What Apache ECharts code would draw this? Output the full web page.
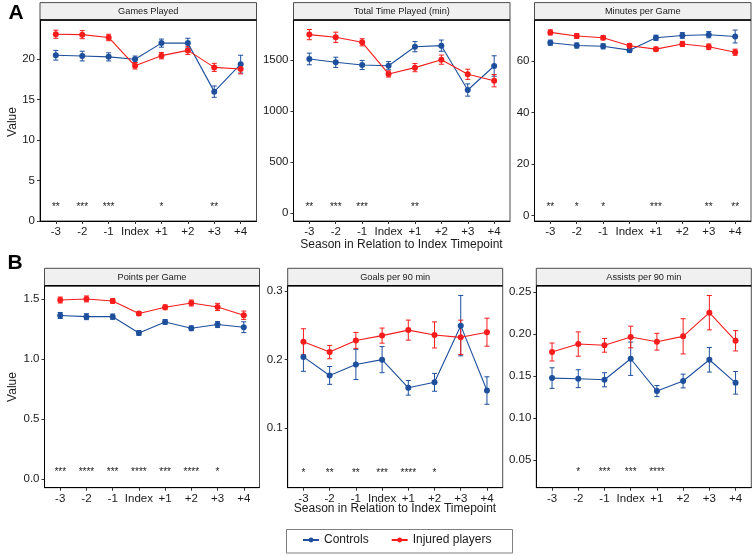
<!DOCTYPE html>
<html><head><meta charset="utf-8">
<script src="https://cdn.jsdelivr.net/npm/echarts@6/dist/echarts.min.js"></script>
<style>html,body{margin:0;padding:0;background:#fff}#c{width:756px;height:556px}</style>
</head><body><div id="c"></div><script>
// ---------------- data ----------------
const categories = ['-3','-2','-1','Index','+1','+2','+3','+4'];
const seriesNames = ['Controls','Injured players'];
const panelTitles = ['Games Played','Total Time Played (min)','Minutes per Game','Points per Game','Goals per 90 min','Assists per 90 min'];
const xTitle = 'Season in Relation to Index Timepoint';
const yTitle = 'Value';

const gamesCtrl    = [20.5, 20.4, 20.3, 20.0, 22.0, 22.0, 16.0, 19.4];
const gamesCtrlErr = [0.6, 0.6, 0.5, 0.4, 0.5, 0.6, 0.7, 1.1];
const gamesInj     = [23.1, 23.05, 22.7, 19.2, 20.45, 21.1, 19.0, 18.8];
const gamesInjErr  = [0.5, 0.5, 0.4, 0.4, 0.4, 0.5, 0.5, 0.6];
const gamesStars   = ['**','***','***','','*','','**',''];
const gamesTicks   = [0, 5, 10, 15, 20];

const timeCtrl     = [1510, 1477, 1451, 1444, 1630, 1640, 1206, 1441];
const timeCtrlErr  = [57, 50, 45, 40, 50, 55, 60, 100];
const timeInj      = [1748, 1722, 1673, 1363, 1425, 1503, 1360, 1297];
const timeInjErr   = [50, 50, 35, 30, 40, 45, 50, 60];
const timeStars    = ['**','***','***','','**','','',''];
const timeTicks    = [0, 500, 1000, 1500];

const mpgCtrl      = [67.1, 66.0, 65.7, 64.2, 69.0, 69.9, 70.2, 69.5];
const mpgCtrlErr   = [1.0, 1.0, 1.0, 0.8, 1.0, 1.1, 1.2, 2.5];
const mpgInj       = [71.1, 69.7, 69.0, 65.9, 64.6, 66.6, 65.5, 63.4];
const mpgInjErr    = [1.0, 0.9, 0.8, 0.9, 0.8, 1.0, 1.1, 1.2];
const mpgStars     = ['**','*','*','','***','','**','**'];
const mpgTicks     = [0, 20, 40, 60];

const ppgCtrl      = [1.365, 1.355, 1.355, 1.219, 1.311, 1.258, 1.289, 1.267];
const ppgCtrlErr   = [0.025, 0.025, 0.022, 0.02, 0.02, 0.02, 0.025, 0.045];
const ppgInj       = [1.494, 1.503, 1.486, 1.381, 1.433, 1.469, 1.436, 1.367];
const ppgInjErr    = [0.025, 0.025, 0.02, 0.015, 0.02, 0.025, 0.03, 0.035];
const ppgStars     = ['***','****','***','****','***','****','*',''];
const ppgTicks     = [0.0, 0.5, 1.0, 1.5];

const goalsCtrl    = [0.204, 0.177, 0.193, 0.2, 0.159, 0.167, 0.2495, 0.155];
const goalsCtrlErr = [0.021, 0.013, 0.022, 0.019, 0.0107, 0.013, 0.044, 0.02];
const goalsInj     = [0.226, 0.211, 0.228, 0.235, 0.243, 0.236, 0.2325, 0.24];
const goalsInjErr  = [0.019, 0.0097, 0.0116, 0.011, 0.0146, 0.019, 0.025, 0.0204];
const goalsStars   = ['*','**','**','***','****','*','',''];
const goalsTicks   = [0.1, 0.2, 0.3];

const astCtrl      = [0.1477, 0.147, 0.1457, 0.1708, 0.1322, 0.1442, 0.1696, 0.1421];
const astCtrlErr   = [0.0123, 0.0107, 0.0084, 0.0199, 0.0066, 0.0082, 0.0147, 0.0135];
const astInj       = [0.1788, 0.1883, 0.1868, 0.1967, 0.1911, 0.1975, 0.2257, 0.1922];
const astInjErr    = [0.0107, 0.0145, 0.0082, 0.0129, 0.01, 0.021, 0.0205, 0.0121];
const astStars     = ['','*','***','***','****','','',''];
const astTicks     = [0.05, 0.10, 0.15, 0.20, 0.25];

// ---------------- layout ----------------
const FONT = 'Liberation Sans, Arial, sans-serif';
const BLUE = '#1D4F9C';
const RED = '#F71C1C';
const STRIP_H = 17.4;
const panels = [
  {title: panelTitles[0], ctrl: gamesCtrl, ctrlErr: gamesCtrlErr, inj: gamesInj, injErr: gamesInjErr, stars: gamesStars, ticks: gamesTicks,
   left: 40, top: 20, width: 216.5, height: 201, min: 0, max: 24.86, starY: 1.7, fmt: v => String(v)},
  {title: panelTitles[1], ctrl: timeCtrl, ctrlErr: timeCtrlErr, inj: timeInj, injErr: timeInjErr, stars: timeStars, ticks: timeTicks,
   left: 293.5, top: 20, width: 216.5, height: 201, min: -75.3, max: 1891, starY: 60, fmt: v => String(v)},
  {title: panelTitles[2], ctrl: mpgCtrl, ctrlErr: mpgCtrlErr, inj: mpgInj, injErr: mpgInjErr, stars: mpgStars, ticks: mpgTicks,
   left: 534.5, top: 20, width: 216.5, height: 201, min: -2.06, max: 75.9, starY: 3.3, fmt: v => String(v)},
  {title: panelTitles[3], ctrl: ppgCtrl, ctrlErr: ppgCtrlErr, inj: ppgInj, injErr: ppgInjErr, stars: ppgStars, ticks: ppgTicks,
   left: 44.5, top: 285.7, width: 215, height: 202, min: -0.0726, max: 1.6135, starY: 0.053, fmt: v => v.toFixed(1)},
  {title: panelTitles[4], ctrl: goalsCtrl, ctrlErr: goalsCtrlErr, inj: goalsInj, injErr: goalsInjErr, stars: goalsStars, ticks: goalsTicks,
   left: 287.7, top: 285.7, width: 215, height: 202, min: 0.01347, max: 0.3077, starY: 0.035, fmt: v => v.toFixed(1)},
  {title: panelTitles[5], ctrl: astCtrl, ctrlErr: astCtrlErr, inj: astInj, injErr: astInjErr, stars: astStars, ticks: astTicks,
   left: 536.3, top: 285.7, width: 215, height: 202, min: 0.01697, max: 0.2579, starY: 0.035, fmt: v => v.toFixed(2)}
];

const grid = [], xAxis = [], yAxis = [], series = [], graphic = [];
const xIdx = categories.map((c, i) => i);

function errSeries(k, means, errs, color) {
  return {
    type: 'custom', name: 'err' + k + color, xAxisIndex: k, yAxisIndex: k, z: 3,
    data: means.map((m, i) => [i, m - errs[i], m + errs[i]]),
    encode: {x: 0, y: [1, 2]},
    renderItem(params, api) {
      const x = api.value(0);
      const lo = api.coord([x, api.value(1)]);
      const hi = api.coord([x, api.value(2)]);
      const w = 2.5;
      const st = {stroke: color, lineWidth: 1};
      return {type: 'group', children: [
        {type: 'line', shape: {x1: lo[0], y1: lo[1], x2: hi[0], y2: hi[1]}, style: st},
        {type: 'line', shape: {x1: lo[0] - w, y1: lo[1], x2: lo[0] + w, y2: lo[1]}, style: st},
        {type: 'line', shape: {x1: hi[0] - w, y1: hi[1], x2: hi[0] + w, y2: hi[1]}, style: st}
      ]};
    }
  };
}

panels.forEach((p, k) => {
  grid.push({left: p.left, top: p.top, width: p.width, height: p.height, show: true,
    borderColor: '#4d4d4d', borderWidth: 1, backgroundColor: 'transparent'});
  xAxis.push({type: 'value', gridIndex: k, min: -0.6, max: 7.6,
    splitLine: {show: false},
    axisLine: {show: true, onZero: false, lineStyle: {color: '#000', width: 1}},
    axisTick: {show: true, length: 3, lineStyle: {color: '#333'}, customValues: xIdx},
    axisLabel: {show: true, customValues: xIdx, formatter: v => categories[Math.round(v)],
      fontFamily: FONT, fontSize: 11.5, color: '#1a1a1a', margin: 5}
  });
  yAxis.push({type: 'value', gridIndex: k, min: p.min, max: p.max,
    splitLine: {show: false},
    axisLine: {show: true, onZero: false, lineStyle: {color: '#000', width: 1}},
    axisTick: {show: true, length: 3, lineStyle: {color: '#333'}, customValues: p.ticks},
    axisLabel: {show: true, customValues: p.ticks, formatter: v => p.fmt(v),
      fontFamily: FONT, fontSize: 11.5, color: '#1a1a1a', margin: 5}
  });
  series.push(errSeries(k, p.ctrl, p.ctrlErr, BLUE));
  series.push({type: 'line', name: seriesNames[0], xAxisIndex: k, yAxisIndex: k, z: 4,
    data: p.ctrl.map((v, i) => [i, v]), symbol: 'circle', symbolSize: 6,
    itemStyle: {color: BLUE}, lineStyle: {color: BLUE, width: 1.1}, animation: false});
  series.push(errSeries(k, p.inj, p.injErr, RED));
  series.push({type: 'line', name: seriesNames[1], xAxisIndex: k, yAxisIndex: k, z: 5,
    data: p.inj.map((v, i) => [i, v]), symbol: 'circle', symbolSize: 6,
    itemStyle: {color: RED}, lineStyle: {color: RED, width: 1.1}, animation: false});
  const stars = p.stars;
  series.push({type: 'custom', name: 'stars' + k, xAxisIndex: k, yAxisIndex: k, z: 6,
    data: stars.map((s, i) => [i, p.starY]),
    renderItem(params, api) {
      const pt = api.coord([api.value(0), api.value(1)]);
      return {type: 'text', x: pt[0], y: pt[1], style: {text: stars[params.dataIndex],
        fill: '#222', font: '10px ' + FONT, align: 'center', verticalAlign: 'middle'}};
    }
  });
  // strip
  graphic.push({type: 'rect', shape: {x: p.left, y: p.top - STRIP_H, width: p.width, height: STRIP_H},
    style: {fill: '#F0F0F0', stroke: '#4d4d4d', lineWidth: 1}, z: 10});
  graphic.push({type: 'line', shape: {x1: p.left, y1: p.top, x2: p.left + p.width, y2: p.top},
    style: {stroke: '#000', lineWidth: 1.6}, z: 11});
  graphic.push({type: 'text', x: p.left + p.width / 2, y: p.top - STRIP_H / 2 + 0.5,
    style: {text: p.title, font: '9.2px ' + FONT, fill: '#1a1a1a', align: 'center', verticalAlign: 'middle'}, z: 12});
});

// titles & labels
graphic.push({type: 'text', x: 401.5, y: 245, style: {text: xTitle, font: '12px ' + FONT, fill: '#1a1a1a', align: 'center', verticalAlign: 'middle'}});
graphic.push({type: 'text', x: 395, y: 509, style: {text: xTitle, font: '12px ' + FONT, fill: '#1a1a1a', align: 'center', verticalAlign: 'middle'}});
graphic.push({type: 'text', x: 13, y: 122, rotation: Math.PI / 2, style: {text: yTitle, font: '12px ' + FONT, fill: '#1a1a1a', align: 'center', verticalAlign: 'middle'}});
graphic.push({type: 'text', x: 13, y: 387, rotation: Math.PI / 2, style: {text: yTitle, font: '12px ' + FONT, fill: '#1a1a1a', align: 'center', verticalAlign: 'middle'}});
graphic.push({type: 'text', x: 16, y: 13, style: {text: 'A', font: 'bold 21px ' + FONT, fill: '#000', align: 'center', verticalAlign: 'middle'}});
graphic.push({type: 'text', x: 15, y: 263, style: {text: 'B', font: 'bold 21px ' + FONT, fill: '#000', align: 'center', verticalAlign: 'middle'}});
// legend box
graphic.push({type: 'rect', shape: {x: 286.5, y: 529.5, width: 226, height: 23.5}, style: {fill: 'none', stroke: '#7f7f7f', lineWidth: 1}});

const chart = echarts.init(document.getElementById('c'), null, {renderer: 'canvas'});
chart.setOption({
  animation: false,
  backgroundColor: '#fff',
  grid, xAxis, yAxis, series, graphic,
  legend: {data: seriesNames, left: 302, top: 534, itemWidth: 16, itemHeight: 6, itemGap: 22,
    textStyle: {fontFamily: FONT, fontSize: 12, color: '#1a1a1a'}, padding: 0, selectedMode: false}
});
</script></body></html>
